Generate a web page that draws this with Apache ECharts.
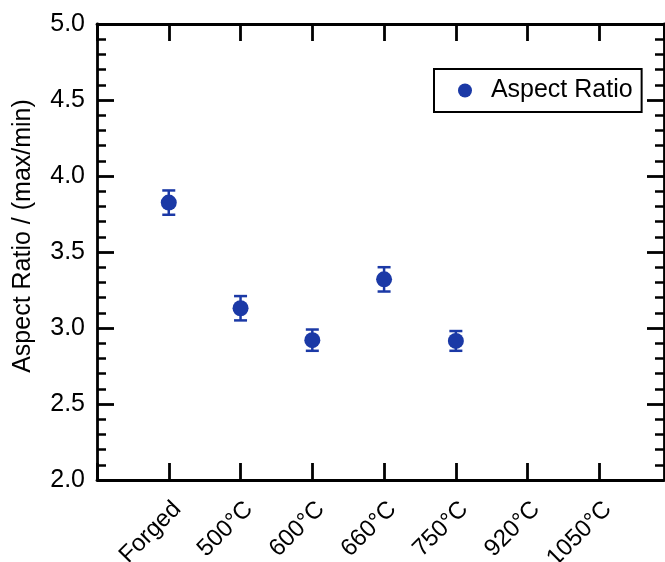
<!DOCTYPE html>
<html>
<head>
<meta charset="utf-8">
<script src="https://cdn.jsdelivr.net/npm/echarts@6/dist/echarts.min.js"></script>
<style>
  html, body { margin: 0; padding: 0; background: #fff; }
  #chart { width: 665px; height: 562px; }
</style>
</head>
<body>
<div id="chart"></div>
<script>
// categories along x, values and error half-widths
var categories = ['Forged', '500°C', '600°C', '660°C', '750°C', '920°C', '1050°C'];
var ratioValues = [3.825, 3.13, 2.92, 3.32, 2.915];
var ratioErrors = [0.08, 0.08, 0.07, 0.08, 0.065];
var yTicks = [2.0, 2.5, 3.0, 3.5, 4.0, 4.5, 5.0];

var fontName = 'Liberation Sans';
var markColor = '#1b39a6';

var points = [];
var bars = [];
for (var i = 0; i < ratioValues.length; i++) {
    points.push([i + 1, ratioValues[i]]);
    bars.push([i + 1, ratioValues[i], ratioErrors[i]]);
}

// draws one error bar with caps
var renderErr = function(params, api){
    var x = api.value(0), y = api.value(1), e = api.value(2);
    var top = api.coord([x, y + e]);
    var bot = api.coord([x, y - e]);
    var cap = 6.5;
    var st = { stroke: markColor, lineWidth: 2.5 };
    return {
        type: 'group',
        children: [
            { type: 'line', shape: { x1: top[0], y1: top[1], x2: bot[0], y2: bot[1] }, style: st },
            { type: 'line', shape: { x1: top[0] - cap, y1: top[1], x2: top[0] + cap, y2: top[1] }, style: st },
            { type: 'line', shape: { x1: bot[0] - cap, y1: bot[1], x2: bot[0] + cap, y2: bot[1] }, style: st }
        ]
    };
};

var lineStyle = { color: '#000', width: 2.8 };

var chart = echarts.init(document.getElementById('chart'));
chart.setOption({
    backgroundColor: '#fff',
    animation: false,
    grid: { left: 97, right: 1, top: 24, bottom: 82, containLabel: false, outerBoundsMode: 'none' },
    legend: {
        data: ['Aspect Ratio'],
        left: 434,
        top: 69,
        orient: 'vertical',
        icon: 'circle',
        itemWidth: 14,
        itemHeight: 14,
        padding: [9, 9, 9, 24],
        borderColor: '#000',
        borderWidth: 2,
        borderRadius: 0,
        formatter: function(n){ return '  ' + n; },
        textStyle: { fontFamily: fontName, fontSize: 25, color: '#000' }
    },
    xAxis: [{
        type: 'value',
        min: 0,
        max: 7.9,
        interval: 1,
        splitLine: { show: false },
        axisLine: { show: true, onZero: false, lineStyle: lineStyle },
        axisTick: { show: true, inside: true, length: 17, lineStyle: lineStyle },
        axisLabel: {
            rotate: 45,
            margin: 17,
            verticalAlign: 'top',
            fontFamily: fontName,
            fontSize: 24,
            color: '#000',
            showMaxLabel: false,
            formatter: function(v){
                var k = Math.round(v);
                if (Math.abs(v - k) > 1e-6 || k < 1 || k > categories.length) return '';
                return categories[k - 1];
            }
        }
    }, {
        type: 'value',
        position: 'top',
        min: 0,
        max: 7.9,
        interval: 1,
        splitLine: { show: false },
        axisLine: { show: true, onZero: false, lineStyle: lineStyle },
        axisTick: { show: true, inside: true, length: 17, lineStyle: lineStyle },
        axisLabel: { show: false }
    }],
    yAxis: [{
        type: 'value',
        position: 'left',
        min: yTicks[0],
        max: yTicks[yTicks.length - 1],
        interval: 0.5,
        name: 'Aspect Ratio / (max/min)',
        nameLocation: 'middle',
        nameGap: 61,
        nameTextStyle: { fontFamily: fontName, fontSize: 25, color: '#000', padding: [0, 0, 0, 32] },
        splitLine: { show: false },
        axisLine: { show: true, onZero: false, lineStyle: lineStyle },
        axisTick: { show: true, inside: true, length: 17, lineStyle: lineStyle },
        minorTick: { show: true, splitNumber: 5, length: 9, lineStyle: { color: '#000', width: 2.5 } },
        axisLabel: {
            margin: 12,
            fontFamily: fontName,
            fontSize: 25,
            color: '#000',
            formatter: function(v){ return v.toFixed(1); }
        }
    }, {
        type: 'value',
        position: 'right',
        min: yTicks[0],
        max: yTicks[yTicks.length - 1],
        interval: 0.5,
        splitLine: { show: false },
        axisLine: { show: true, onZero: false, lineStyle: lineStyle },
        axisTick: { show: true, inside: true, length: 17, lineStyle: lineStyle },
        minorTick: { show: true, splitNumber: 5, length: 9, lineStyle: { color: '#000', width: 2.5 } },
        axisLabel: { show: false }
    }],
    series: [{
        name: 'err',
        type: 'custom',
        renderItem: renderErr,
        data: bars,
        z: 2
    }, {
        name: 'Aspect Ratio',
        type: 'scatter',
        data: points,
        symbol: 'circle',
        symbolSize: 16,
        itemStyle: { color: markColor, opacity: 1 },
        z: 3
    }]
});
</script>
</body>
</html>
